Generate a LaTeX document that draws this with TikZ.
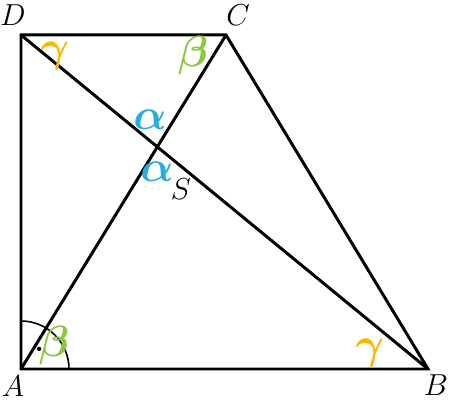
\documentclass[tikz,border=0pt]{standalone}
\usepackage{tikz}
\usetikzlibrary{calc}
\usepackage{amsmath}
\definecolor{anglegreen}{RGB}{141,198,63}
\definecolor{angleblue}{RGB}{41,171,226}
\definecolor{angleyellow}{RGB}{250,184,0}
\newcommand{\colalpha}{angleblue}
\newcommand{\colbeta}{anglegreen}
\newcommand{\colgamma}{angleyellow}
\tikzset{
	edge/.style={draw=black, line width=1.7pt, line join=miter},
	vlabel/.style={inner sep=0, font=\fontsize{17}{20}\selectfont},
	alabel/.style={inner sep=0, font=\fontsize{26}{30}\selectfont\boldmath},
}

\begin{document}
\begin{tikzpicture}[x=0.02cm, y=0.02cm]
	\useasboundingbox (0,0) rectangle (449,401);
	% corners of the trapezoid
	\coordinate (A) at (21,32);
	\coordinate (B) at (428,32);
	\coordinate (C) at (226,366);
	\coordinate (D) at (21,366);
	\coordinate (S) at (intersection of A--C and B--D);

	% right angle at A
	\draw[line width=0.9pt] ($(A)+(48,0)$) arc (0:90:48);
	\fill ($(A)+(48:27)$) circle (2.2);

	% sides and diagonals
	\draw[edge] (A) -- (B) -- (C) -- (D) -- cycle;
	\draw[edge] (A) -- (C);
	\draw[edge] (B) -- (D);

	% vertex names
	\node[vlabel] (nA) at (13,15) {$A$};
	\node[vlabel] (nB) at (436,16) {$B$};
	\node[vlabel] (nC) at (238,386) {$C$};
	\node[vlabel] (nD) at (13,386) {$D$};
	\node[vlabel] (nS) at (181,212) {$S$};

	% angles
	\node[alabel, text=\colgamma] (gD) at (55,345) {$\gamma$};
	\node[alabel, text=\colbeta] (bC) at (193,345) {$\beta$};
	\node[alabel, text=\colalpha] (aT) at (150,281) {$\alpha$};
	\node[alabel, text=\colalpha] (aB) at (157,229) {$\alpha$};
	\node[alabel, text=\colbeta] (bA) at (54,55) {$\beta$};
	\node[alabel, text=\colgamma] (gB) at (370,48) {$\gamma$};
\end{tikzpicture}
\end{document}
